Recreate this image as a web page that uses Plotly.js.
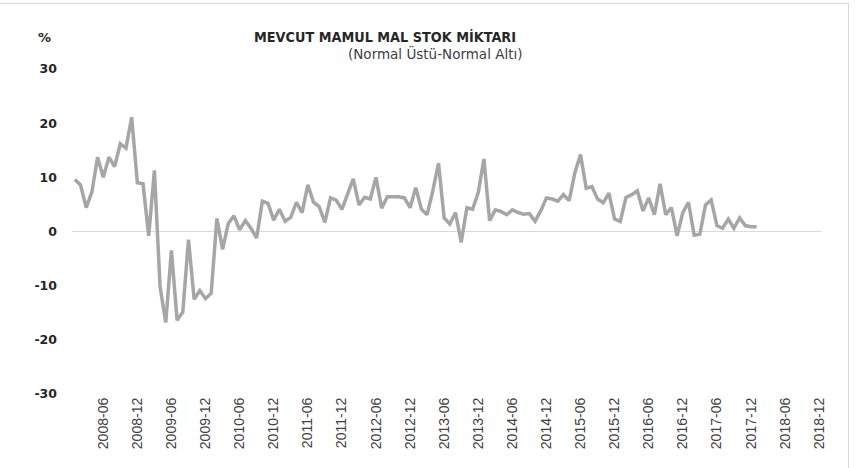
<!DOCTYPE html>
<html>
<head>
<meta charset="utf-8">
<script src="https://cdn.plot.ly/plotly-3.0.1.min.js"></script>
<style>
html,body{margin:0;padding:0;background:#fff;}
#wrap{position:relative;width:862px;height:468px;overflow:hidden;}
#chart{width:862px;height:468px;}
#frame{position:absolute;left:-2px;top:3px;width:851px;height:480px;border:1px solid #d9d9d9;pointer-events:none;box-sizing:border-box;}
</style>
</head>
<body>
<div id="wrap"><div id="chart"></div><div id="frame"></div></div>
<script>
// Chart text
const chartTitle = "MEVCUT MAMUL MAL STOK MİKTARI";
const chartSubtitle = "(Normal Üstü-Normal Altı)";
const yUnit = "%";

// Category axis: months 2008-01 .. 2018-12
const allMonths = [];
for (let y = 2008; y <= 2018; y++) {
  for (let m = 1; m <= 12; m++) allMonths.push(y + "-" + (m < 10 ? "0" + m : m));
}
// Tick labels (every 6 months)
const tickLabels = ["2008-06","2008-12","2009-06","2009-12","2010-06","2010-12","2011-06","2011-12",
  "2012-06","2012-12","2013-06","2013-12","2014-06","2014-12","2015-06","2015-12",
  "2016-06","2016-12","2017-06","2017-12","2018-06","2018-12"];
const yTicks = [-30,-20,-10,0,10,20,30];

// Series values, 2008-01 .. 2018-01
const stockValues = [
  9.6, 8.6, 4.4, 7.3, 13.7, 10.0, 13.7, 12.0, 16.2, 15.4, 21.1, 9.0,
  8.8, -0.8, 11.3, -10.2, -16.8, -3.5, -16.4, -14.9, -1.5, -12.5, -10.9, -12.4,
  -11.4, 2.4, -3.3, 1.5, 2.9, 0.3, 2.0, 0.6, -1.2, 5.6, 5.2, 2.1,
  4.1, 1.9, 2.6, 5.4, 3.5, 8.6, 5.4, 4.6, 1.7, 6.2, 5.8, 4.1,
  6.9, 9.7, 4.9, 6.3, 6.0, 10.0, 4.3, 6.4, 6.4, 6.4, 6.2, 4.4,
  8.1, 4.1, 3.1, 7.5, 12.6, 2.5, 1.4, 3.5, -2.0, 4.4, 4.1, 7.2,
  13.4, 2.0, 4.0, 3.7, 3.1, 4.0, 3.5, 3.2, 3.3, 1.9, 3.8, 6.2,
  6.0, 5.6, 6.8, 5.7, 10.8, 14.2, 8.0, 8.3, 6.0, 5.3, 7.1, 2.3,
  1.85, 6.3, 6.8, 7.5, 3.8, 6.2, 3.1, 8.8, 3.1, 4.4, -0.8, 3.5,
  5.4, -0.7, -0.5, 4.9, 5.8, 1.1, 0.6, 2.3, 0.6, 2.5, 1.1, 0.9,
  0.9
];
const stockMonths = allMonths.slice(0, stockValues.length);

const trace = {
  x: stockMonths,
  y: stockValues,
  type: "scatter",
  mode: "lines",
  line: {color: "#a6a6a6", width: 3.5},
  hoverinfo: "x+y"
};

const layout = {
  width: 862, height: 468,
  margin: {l: 72, r: 40, t: 69, b: 74},
  paper_bgcolor: "#ffffff",
  plot_bgcolor: "#ffffff",
  showlegend: false,
  title: {
    text: "<b>" + chartTitle + "</b>",
    font: {family: "DejaVu Sans Condensed, DejaVu Sans, sans-serif", size: 14.3, color: "#262626"},
    x: 385/862, xref: "container", xanchor: "center",
    y: 1 - 37/468, yref: "container", yanchor: "middle"
  },
  annotations: [
    {text: chartSubtitle, xref: "paper", yref: "paper",
     x: (435-72)/750, y: 1 + (69-53)/325, xanchor: "center", yanchor: "middle",
     showarrow: false, font: {family: "DejaVu Sans, sans-serif", size: 13.5, color: "#404040"}},
    {text: "<b>" + yUnit + "</b>", xref: "paper", yref: "paper",
     x: (44-72)/750, y: 1 + (69-37)/325, xanchor: "center", yanchor: "middle",
     showarrow: false, font: {family: "DejaVu Sans, sans-serif", size: 13, color: "#262626"}}
  ],
  xaxis: {
    type: "category",
    categoryorder: "array",
    categoryarray: allMonths,
    range: [-0.5, allMonths.length - 0.5],
    tickmode: "array",
    tickvals: tickLabels,
    ticktext: tickLabels,
    tickangle: -90,
    tickfont: {family: "Liberation Sans, Arial, sans-serif", size: 14, color: "#404040"},
    showgrid: false, zeroline: false, showline: false, ticks: ""
  },
  yaxis: {
    range: [-30, 30],
    tickmode: "array",
    tickvals: yTicks,
    ticktext: yTicks.map(String),
    tickfont: {family: "DejaVu Sans, sans-serif", size: 12.5, color: "#262626", weight: "bold"},
    showgrid: false,
    zeroline: true, zerolinecolor: "#d9d9d9", zerolinewidth: 1,
    showline: false, ticks: "",
    ticklabelstandoff: 14
  }
};

Plotly.newPlot("chart", [trace], layout, {displayModeBar: false, staticPlot: true});
</script>
</body>
</html>
